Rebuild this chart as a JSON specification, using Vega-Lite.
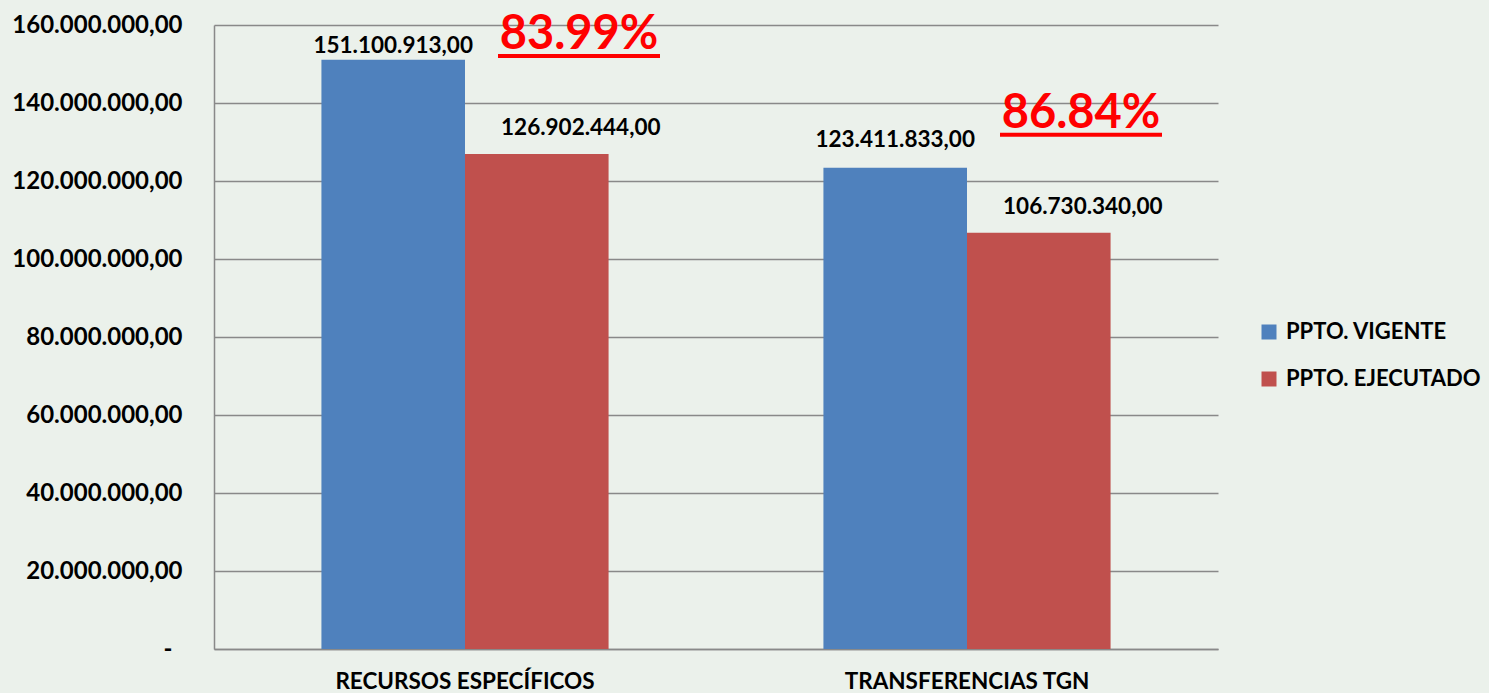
{
  "$schema": "https://vega.github.io/schema/vega-lite/v6.json",
  "width": 1004,
  "height": 624,
  "autosize": {"type": "none"},
  "padding": {"left": 214, "top": 25, "right": 271, "bottom": 44},
  "background": "#ebf1eb",
  "config": {
    "locale": {"number": {"decimal": ",", "thousands": ".", "grouping": [3], "currency": ["", ""]}},
    "view": {"stroke": null},
    "font": "Lato"
  },
  "data": {"values": [
    {"cat": "RECURSOS ESPECÍFICOS", "serie": "PPTO. VIGENTE", "value": 151100913, "pct": "83.99%"},
    {"cat": "RECURSOS ESPECÍFICOS", "serie": "PPTO. EJECUTADO", "value": 126902444, "pct": "83.99%"},
    {"cat": "TRANSFERENCIAS TGN", "serie": "PPTO. VIGENTE", "value": 123411833, "pct": "86.84%"},
    {"cat": "TRANSFERENCIAS TGN", "serie": "PPTO. EJECUTADO", "value": 106730340, "pct": "86.84%"}
  ]},
  "encoding": {
    "x": {
      "field": "cat", "type": "nominal", "sort": null,
      "scale": {"paddingInner": 0.428, "paddingOuter": 0.214},
      "axis": {
        "title": null, "labelAngle": 0, "labelFont": "Lato", "labelFontSize": 22.5, "labelFontWeight": "bold",
        "labelColor": "#000000", "labelBaseline": "alphabetic", "labelPadding": 39, "labelLimit": 0, "ticks": false, "grid": false,
        "domain": true, "domainColor": "#898989", "domainWidth": 1.5
      }
    },
    "y": {
      "field": "value", "type": "quantitative",
      "scale": {"domain": [0, 160000000], "nice": false},
      "axis": {
        "title": null,
        "values": [0, 20000000, 40000000, 60000000, 80000000, 100000000, 120000000, 140000000, 160000000],
        "format": ",.2f",
        "labelExpr": "datum.value == 0 ? '-' : datum.label",
        "labelFont": "Lato", "labelFontSize": 24, "labelFontWeight": "bold", "labelColor": "#000000",
        "labelPadding": {"condition": {"test": "datum.value == 0", "value": 42}, "value": 32},
        "labelLimit": 0, "ticks": false,
        "domain": true, "domainColor": "#898989", "domainWidth": 1.5,
        "grid": true, "gridColor": "#898989", "gridWidth": 1.5
      }
    }
  },
  "layer": [
    {
      "mark": {"type": "bar"},
      "encoding": {
        "xOffset": {"field": "serie", "type": "nominal", "sort": ["PPTO. VIGENTE", "PPTO. EJECUTADO"], "scale": {"paddingInner": 0, "paddingOuter": 0}},
        "color": {
          "field": "serie", "type": "nominal",
          "scale": {"domain": ["PPTO. VIGENTE", "PPTO. EJECUTADO"], "range": ["#4F81BD", "#C0504D"]},
          "legend": {
            "title": null, "orient": "none", "legendX": 1044, "legendY": 296,
            "symbolType": "square", "symbolSize": 225, "symbolStrokeWidth": 0,
            "labelFont": "Lato", "labelFontSize": 22, "labelFontWeight": "bold", "labelColor": "#000000",
            "labelOffset": 6, "labelLimit": 0, "rowPadding": 25
          }
        }
      }
    },
    {
      "transform": [{"filter": "datum.serie == 'PPTO. VIGENTE' && datum.value > 150000000"}],
      "mark": {"type": "text", "dy": -14, "baseline": "middle", "fontSize": 22.5, "fontWeight": "bold", "color": "#000000"},
      "encoding": {
        "xOffset": {"field": "serie", "type": "nominal", "sort": ["PPTO. VIGENTE", "PPTO. EJECUTADO"]},
        "text": {"field": "value", "type": "quantitative", "format": ",.2f"}
      }
    },
    {
      "transform": [{"filter": "datum.serie == 'PPTO. VIGENTE' && datum.value < 150000000"}],
      "mark": {"type": "text", "dy": -28, "baseline": "middle", "fontSize": 22.5, "fontWeight": "bold", "color": "#000000"},
      "encoding": {
        "xOffset": {"field": "serie", "type": "nominal", "sort": ["PPTO. VIGENTE", "PPTO. EJECUTADO"]},
        "text": {"field": "value", "type": "quantitative", "format": ",.2f"}
      }
    },
    {
      "transform": [{"filter": "datum.serie == 'PPTO. EJECUTADO'"}],
      "mark": {"type": "text", "dx": 44, "dy": -26, "baseline": "middle", "fontSize": 22.5, "fontWeight": "bold", "color": "#000000"},
      "encoding": {
        "xOffset": {"field": "serie", "type": "nominal", "sort": ["PPTO. VIGENTE", "PPTO. EJECUTADO"]},
        "text": {"field": "value", "type": "quantitative", "format": ",.2f"}
      }
    },
    {
      "transform": [{"filter": "datum.serie == 'PPTO. EJECUTADO'"}],
      "mark": {"type": "text", "dx": 114, "dy": -105, "baseline": "alphabetic", "align": "center", "fontSize": 47, "fontWeight": "bold", "color": "#FF0000"},
      "encoding": {
        "text": {"field": "pct", "type": "nominal"}
      }
    },
    {
      "transform": [{"filter": "datum.serie == 'PPTO. EJECUTADO'"}],
      "mark": {"type": "rule", "xOffset": 33, "x2Offset": 195, "yOffset": -98, "strokeWidth": 4, "color": "#FF0000"},
      "encoding": {
        "x2": {"field": "cat"}
      }
    }
  ]
}
